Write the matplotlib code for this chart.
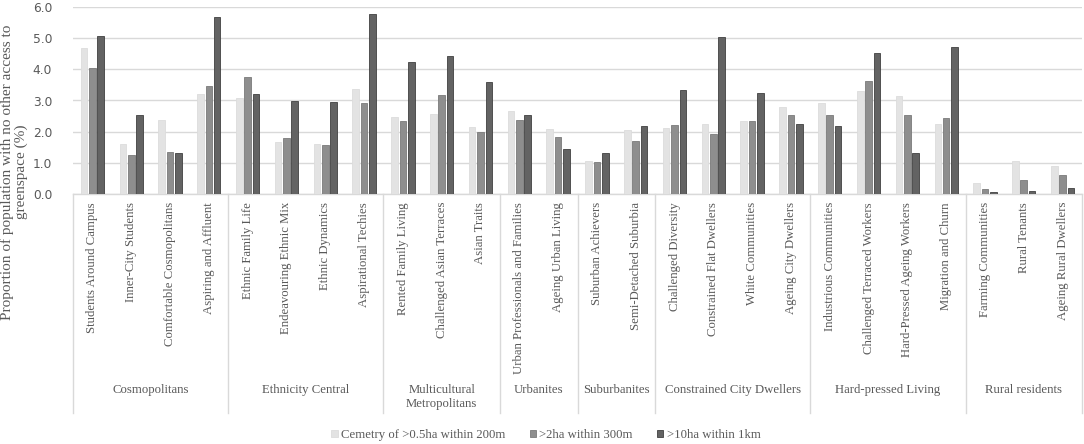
import matplotlib
matplotlib.use("Agg")
import matplotlib.pyplot as plt
import matplotlib.transforms as mtrans
from matplotlib.patches import Patch
import numpy as np

groups = ["Cosmopolitans", "Ethnicity Central", "Multicultural\nMetropolitans", "Urbanites",
          "Suburbanites", "Constrained City Dwellers", "Hard-pressed Living", "Rural residents"]
group_sizes = [4, 4, 3, 2, 2, 4, 4, 3]

categories = ["Students Around Campus", "Inner-City Students", "Comfortable Cosmopolitans",
              "Aspiring and Affluent",
              "Ethnic Family Life", "Endeavouring Ethnic Mix", "Ethnic Dynamics", "Aspirational Techies",
              "Rented Family Living", "Challenged Asian Terraces", "Asian Traits",
              "Urban Professionals and Families", "Ageing Urban Living",
              "Suburban Achievers", "Semi-Detached Suburbia",
              "Challenged Diversity", "Constrained Flat Dwellers", "White Communities", "Ageing City Dwellers",
              "Industrious Communities", "Challenged Terraced Workers", "Hard-Pressed Ageing Workers",
              "Migration and Churn",
              "Farming Communities", "Rural Tenants", "Ageing Rural Dwellers"]

series_names = ["Cemetry of >0.5ha within 200m", ">2ha within 300m", ">10ha within 1km"]

cemetery = [4.69, 1.62, 2.36, 3.21,
            3.07, 1.66, 1.59, 3.38,
            2.47, 2.56, 2.14,
            2.65, 2.09,
            1.07, 2.05,
            2.13, 2.23, 2.35, 2.79,
            2.91, 3.30, 3.13, 2.23,
            0.34, 1.06, 0.91]
ha2 = [4.03, 1.24, 1.36, 3.47,
       3.74, 1.81, 1.58, 2.92,
       2.34, 3.17, 2.00,
       2.37, 1.83,
       1.04, 1.70,
       2.21, 1.93, 2.34, 2.52,
       2.55, 3.64, 2.54, 2.45,
       0.15, 0.45, 0.60]
ha10 = [5.07, 2.52, 1.31, 5.69,
        3.21, 2.99, 2.96, 5.78,
        4.22, 4.44, 3.60,
        2.53, 1.45,
        1.30, 2.17,
        3.34, 5.04, 3.25, 2.26,
        2.17, 4.53, 1.31, 4.72,
        0.06, 0.11, 0.20]

yticks = [0, 1, 2, 3, 4, 5, 6]

W, H = 1084, 444
fig = plt.figure(figsize=(W / 100, H / 100), dpi=100)
left, right, top, bottom = 73, 1082, 7, 194
ax = fig.add_axes([left / W, 1 - bottom / H, (right - left) / W, (bottom - top) / H])

serif = ["Liberation Serif", "DejaVu Serif"]
gray_text = "#595959"
fills = ["#e3e3e3", "#8e8e8e", "#636363"]
edges = ["#dcdcdc", "#7a7a7a", "#404040"]

x = np.arange(len(categories))
pitch = 0.215
bw = 0.17
for i, (vals, name) in enumerate(zip([cemetery, ha2, ha10], series_names)):
    ax.bar(x + (i - 1) * pitch, vals, width=bw, color=fills[i], edgecolor=edges[i],
           linewidth=0.6, label=name, zorder=3)

ax.set_xlim(-0.5, len(categories) - 0.5)
ax.set_ylim(0, 6)
ax.set_yticks(yticks)
ax.set_yticklabels([f"{v:.1f}" for v in yticks], fontsize=8.8, color=gray_text,
                   family=["DejaVu Sans"])
ax.tick_params(axis="y", length=0, pad=15)
ax.set_xticks([])
ax.grid(axis="y", color="#d9d9d9", linewidth=1.0, zorder=0)
for s in ["top", "right", "left"]:
    ax.spines[s].set_visible(False)
ax.spines["bottom"].set_color("#d9d9d9")
ax.spines["bottom"].set_linewidth(1.0)

trans = mtrans.blended_transform_factory(ax.transData, ax.transAxes)
axh = bottom - top
lab_top = -(202 - bottom) / axh
sep_bot = -(413 - bottom) / axh
grp_top = -(384 - bottom) / axh

for xi, c in zip(x, categories):
    ax.text(xi, lab_top, c, rotation=90, ha="center", va="top", transform=trans,
            fontsize=9.2, color=gray_text, family=serif)

start = 0
bounds = [-0.5]
for g, n in zip(groups, group_sizes):
    center = start + (n - 1) / 2
    ax.text(center, grp_top, g, ha="center", va="top", transform=trans,
            fontsize=9.2, color=gray_text, family=serif, linespacing=1.2)
    start += n
    bounds.append(start - 0.5)
for b in bounds:
    ax.plot([b, b], [0, sep_bot], transform=trans, color="#d9d9d9", linewidth=1.0,
            clip_on=False, zorder=1)

fig.text(14 / W, 1 - 172 / H, "Proportion of population with no other access to\ngreenspace (%)",
         rotation=90, ha="center", va="center", fontsize=11, color=gray_text, family=serif,
         multialignment="center", linespacing=1.05)

handles = [Patch(facecolor=fills[i], edgecolor=edges[i], linewidth=0.6) for i in range(3)]
fig.legend(handles, series_names, loc="center", bbox_to_anchor=(546 / W, 1 - 435 / H),
           ncol=3, frameon=False, handlelength=0.5, handleheight=0.5, handletextpad=0.25,
           columnspacing=1.9, prop={"family": serif, "size": 9.2}, labelcolor=gray_text)

fig.savefig("out.png", dpi=100)
